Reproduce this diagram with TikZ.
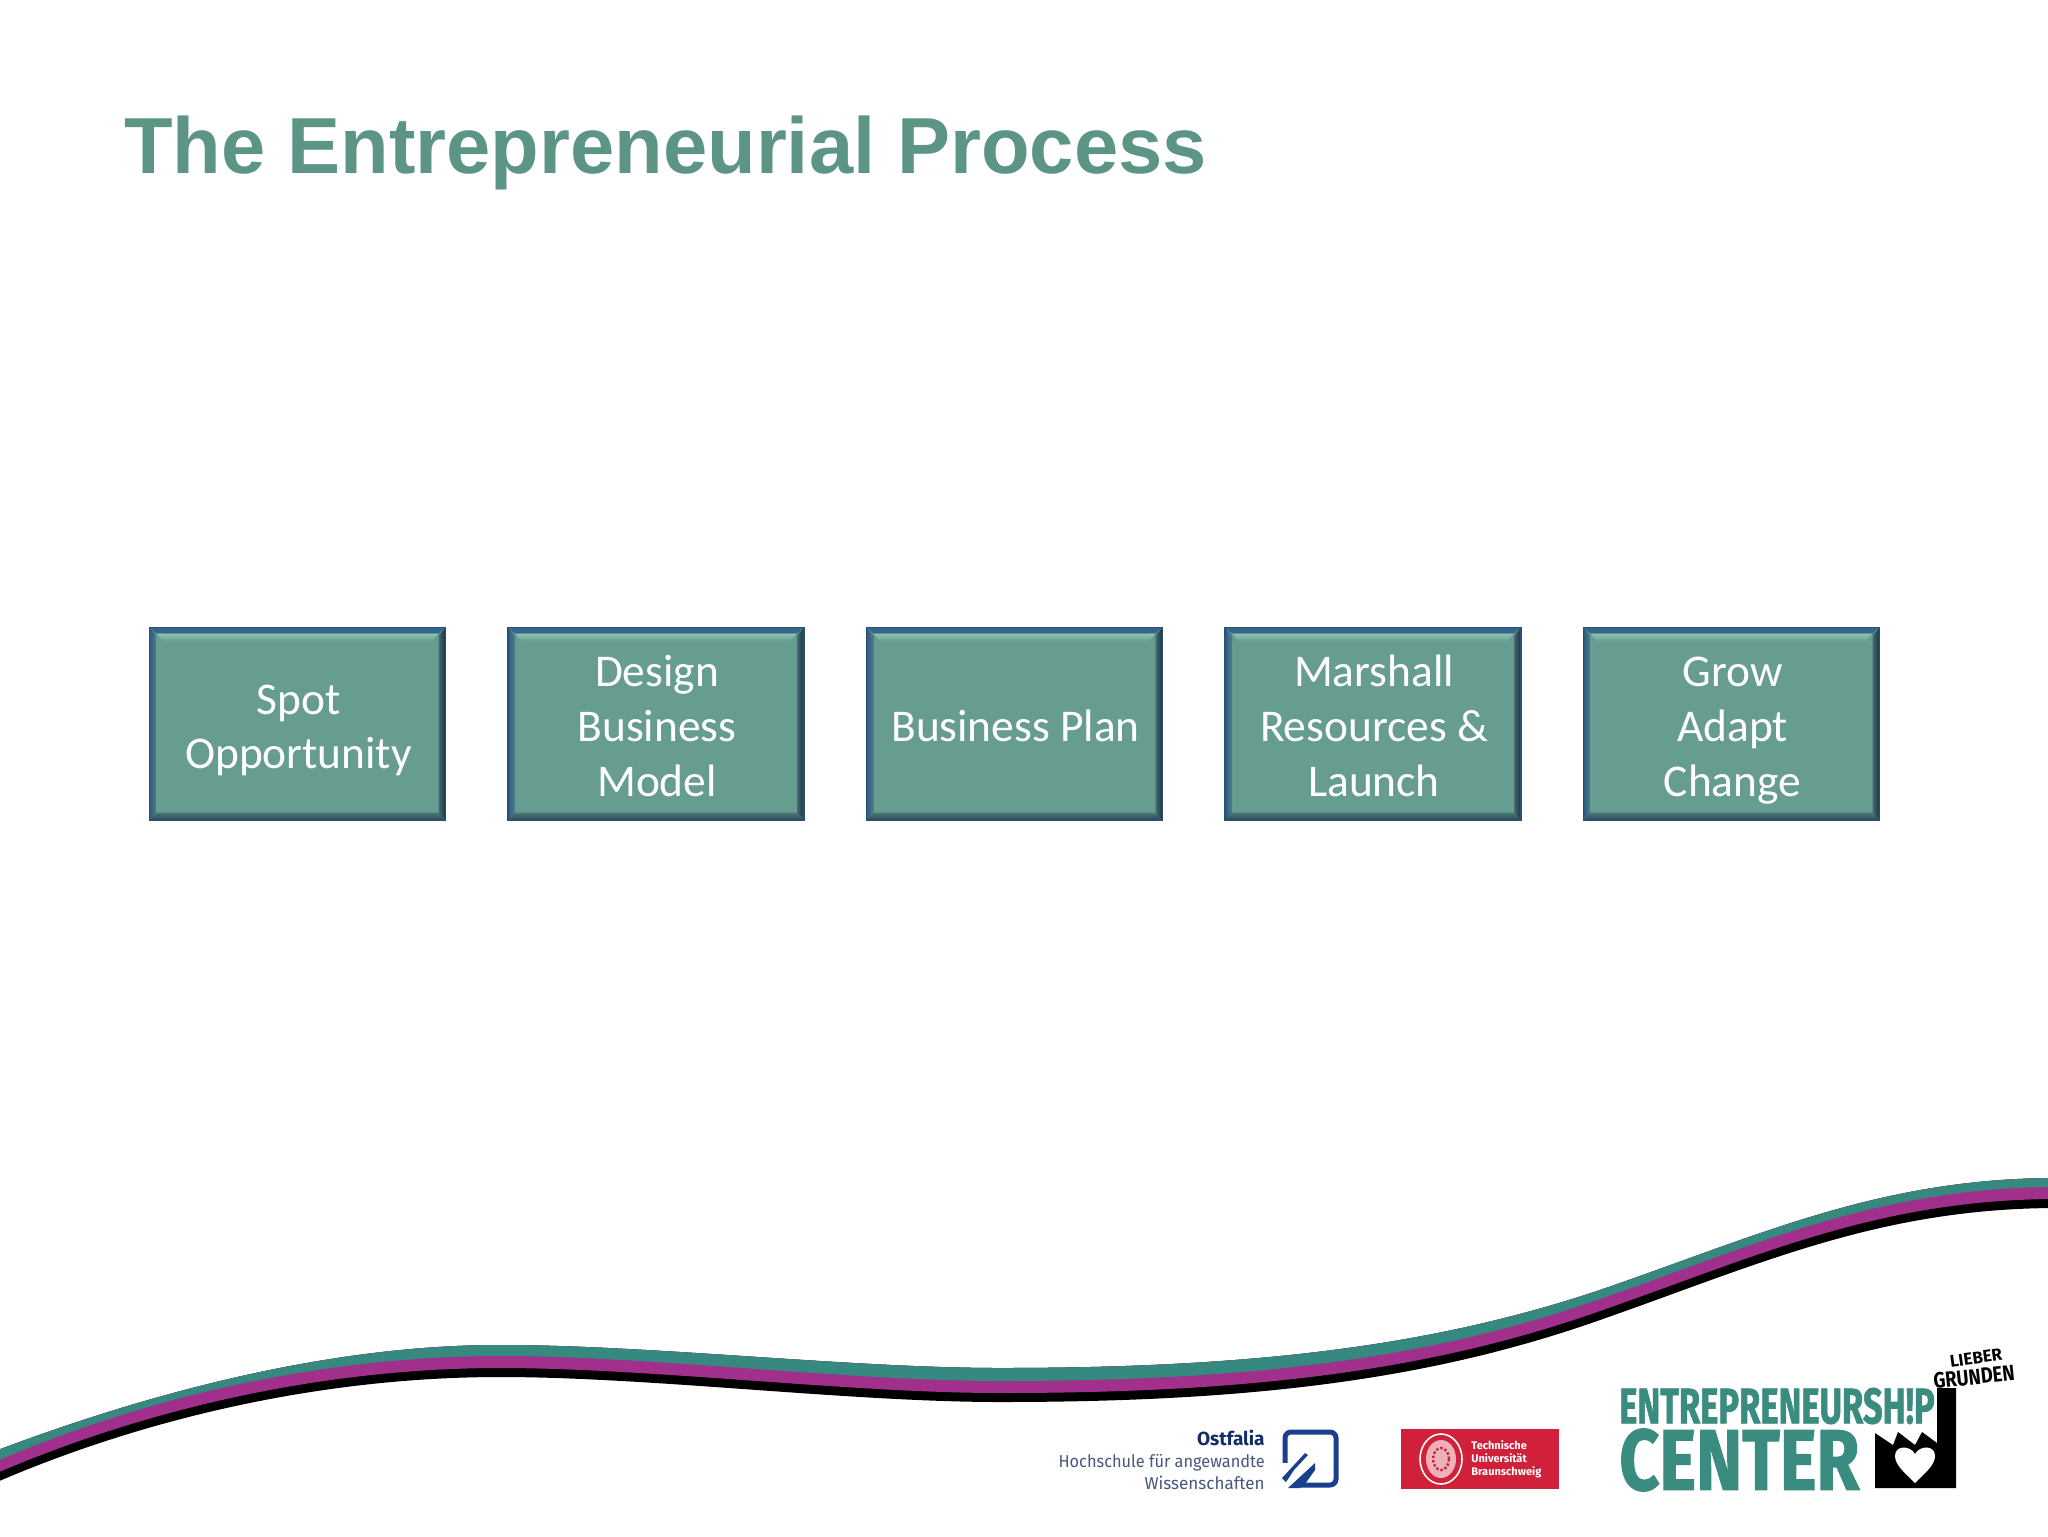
\documentclass[tikz,border=0pt]{standalone}
\usepackage{fontspec}
\setmainfont{Liberation Sans}
\newfontfamily\bodyfont{Carlito}
\newfontfamily\logofont{Fira Sans}
\newfontfamily\logoheavy[BoldFeatures={FakeBold=1.5}]{Fira Sans}
\usetikzlibrary{calc}
\definecolor{titlecol}{HTML}{5C9586}
\definecolor{face}{HTML}{679D90}
\definecolor{edgeblue}{HTML}{2A5078}
\definecolor{bevleft}{HTML}{2F5A80}
\definecolor{bevright}{HTML}{1A3046}
\definecolor{bevbottom}{HTML}{28465A}
\definecolor{bevtop}{HTML}{34668A}
\definecolor{bevlight}{HTML}{8CC4B4}
\definecolor{waveteal}{HTML}{35897F}
\definecolor{wavepurple}{HTML}{A0308C}
\definecolor{logoteal}{HTML}{3A8C80}
\definecolor{ostblue}{HTML}{1B3F8F}
\definecolor{ostgrey}{HTML}{4A5580}
\definecolor{tured}{HTML}{D0203A}
\newcommand\wavefill[1]{\fill[#1] (-10,1485) .. controls (150,1415) and (330,1377) .. (500,1377) .. controls (650,1377) and (850,1402) .. (1000,1402) .. controls (1250,1402) and (1430,1380) .. (1600,1320) .. controls (1760,1264) and (1880,1208) .. (2058,1208) -- (2058,1000) -- (-10,1000) -- cycle;}
\newcommand\bevbox[3]{%
  \node[stepbox] (#1) at (#2,724) {};
  \shade[left color=bevleft,right color=bevleft!45!face] (#1.north west) -- ++(7,8) -- ($(#1.south west)+(7,-8)$) -- (#1.south west) -- cycle;
  \shade[left color=bevright!45!face,right color=bevright] (#1.north east) -- ++(-7,8) -- ($(#1.south east)+(-7,-8)$) -- (#1.south east) -- cycle;
  \shade[top color=bevbottom!45!face,bottom color=bevbottom] (#1.south west) -- ++(7,-8) -- ($(#1.south east)+(-7,-8)$) -- (#1.south east) -- cycle;
  \fill[bevtop] (#1.north west) -- ++(7,6) -- ($(#1.north east)+(-7,6)$) -- (#1.north east) -- cycle;
  \shade[top color=bevlight,bottom color=face] ($(#1.north west)+(7,6)$) -- ++(7,8) -- ($(#1.north east)+(-14,14)$) -- ($(#1.north east)+(-7,6)$) -- cycle;
  \draw[edgeblue,line width=.6pt] (#1.north west) rectangle (#1.south east);
  \node[boxlabel] (#1t) at (#2+1,730.5) {#3};
}
\tikzset{
  x=0.5pt,y=-0.5pt,
  stepbox/.style={fill=face,draw=none,minimum width=148pt,minimum height=96.5pt,inner sep=0pt,outer sep=0pt},
  boxlabel/.style={text=white,align=center,font=\bodyfont\fontsize{22.7}{27.4}\selectfont,inner sep=0pt},
}
\begin{document}
\begin{tikzpicture}
\useasboundingbox (0,0) rectangle (2048,1536);
\fill[white] (0,0) rectangle (2048,1536);
\node[anchor=base west,text=titlecol,inner sep=0pt,font=\bfseries\fontsize{39.75}{41}\selectfont] (title) at (124,173) {The Entrepreneurial Process};

\bevbox{a}{297.5}{\strut Spot\\\strut Opportunity}
\bevbox{b}{656}{\strut Design\\\strut Business\\\strut Model}
\bevbox{c}{1014.5}{\strut Business Plan}
\bevbox{d}{1373}{\strut Marshall\\\strut Resources \&\\\strut Launch}
\bevbox{e}{1731.5}{\strut Grow\\\strut Adapt\\\strut Change}

% wave
\begin{scope}
\clip (-10,1453) .. controls (150,1392) and (330,1345) .. (500,1345) .. controls (650,1345) and (850,1368) .. (1000,1368) .. controls (1250,1368) and (1430,1347) .. (1600,1290) .. controls (1760,1235) and (1880,1178) .. (2058,1178) -- (2058,1536) -- (-10,1536) -- cycle;
\wavefill{black}
\begin{scope}[yshift=4.5pt]
\wavefill{wavepurple}
\end{scope}
\begin{scope}[yshift=10.5pt]
\wavefill{waveteal}
\end{scope}
\end{scope}

% Ostfalia
\node[anchor=base east,text=ostblue!70!black,inner sep=0pt,font=\logofont\bfseries\fontsize{9.5}{10}\selectfont] (ost1) at (1265,1445) {Ostfalia};
\node[anchor=base east,text=ostgrey,inner sep=0pt,xscale=0.95,transform shape,font=\logofont\fontsize{8.6}{10}\selectfont] (ost2) at (1265,1467) {Hochschule für angewandte};
\node[anchor=base east,text=ostgrey,inner sep=0pt,xscale=0.99,transform shape,font=\logofont\fontsize{8.6}{10}\selectfont] (ost3) at (1265,1489) {Wissenschaften};
\draw[ostblue,line width=2.5pt,rounded corners=3pt] (1285,1432) rectangle (1336,1485);
\fill[white] (1275,1495) -- (1275,1463) -- (1288,1463) -- (1312,1440) -- (1312,1455) -- (1290,1495) -- cycle;
\fill[ostblue] (1282,1478) -- (1305,1453) -- (1308,1455) -- (1294,1470) -- (1286,1482) -- cycle;
\fill[ostblue] (1288,1488) -- (1315,1463) -- (1315,1470) -- (1305,1484) -- (1300,1488) -- cycle;

% TU
\fill[tured] (1401,1429) rectangle (1559,1489);
\draw[white,line width=.8pt] (1441,1459) circle[x radius=21,y radius=25];
\fill[white!65!tured] (1441,1459) circle[x radius=15,y radius=19];
\draw[tured,line width=1.2pt,densely dotted] (1441,1459) circle[x radius=8,y radius=11];
\node[anchor=west,text=white,align=left,inner sep=0pt,font=\logofont\bfseries\fontsize{5.5}{6.6}\selectfont] (tu) at (1471,1459) {Technische\\Universität\\Braunschweig};

% Entrepreneurship Center
\node[anchor=west,text=logoteal,inner sep=0pt,xscale=0.69,transform shape,font=\logoheavy\bfseries\fontsize{25}{25}\selectfont] (ent) at (1619,1406) {ENTREPRENEURSH!P};
\node[anchor=west,text=logoteal,inner sep=0pt,xscale=0.81,transform shape,font=\logoheavy\bfseries\fontsize{43}{43}\selectfont] (cen) at (1619,1460) {CENTER};
\fill[black] (1875,1433) -- (1893,1445) -- (1898,1432) -- (1915,1445) -- (1922,1432) -- (1937,1443) -- (1937,1388) -- (1956,1388) -- (1956,1488) -- (1875,1488) -- cycle;
\fill[white] (1915,1483) .. controls (1905,1473) and (1895,1465) .. (1895,1456) .. controls (1895,1445) and (1910,1445) .. (1915,1454) .. controls (1920,1445) and (1935,1445) .. (1935,1456) .. controls (1935,1465) and (1925,1473) .. (1915,1483) -- cycle;
\node[text=black,inner sep=0pt,rotate=8,font=\logofont\bfseries\fontsize{8.5}{9}\selectfont] (lieb) at (1976,1358) {LIEBER};
\node[text=black,inner sep=0pt,rotate=6,xscale=.84,transform shape,font=\logofont\bfseries\fontsize{11}{12}\selectfont] (grue) at (1974,1377) {GRUNDEN};
\end{tikzpicture}
\end{document}
